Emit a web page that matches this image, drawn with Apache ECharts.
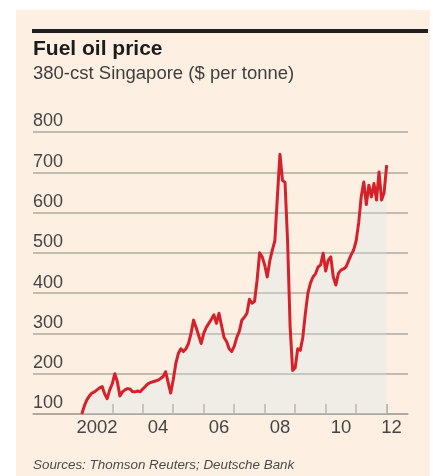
<!DOCTYPE html>
<html>
<head>
<meta charset="utf-8">
<script src="https://cdn.jsdelivr.net/npm/echarts@6/dist/echarts.min.js"></script>
<style>
  html, body { margin: 0; padding: 0; background: #ffffff; }
  #chart { position: absolute; left: 16px; top: 10px; width: 414px; height: 466px; }
</style>
</head>
<body>
<div id="chart"></div>
<script>
// ---- data ----
const titleText = 'Fuel oil price';
const subtitleText = '380-cst Singapore ($ per tonne)';
const sourceText = 'Sources: Thomson Reuters; Deutsche Bank';

const firstYear = 2002;           // first monthly observation: Jan 2002
// monthly prices, $ per tonne, Jan 2002 .. Jan 2012
const prices2002 = [100, 120, 135, 145, 152, 155, 160, 165, 168, 150, 138, 160];
const prices2003 = [175, 200, 180, 145, 155, 160, 163, 162, 155, 155, 157, 155];
const prices2004 = [162, 168, 175, 178, 180, 182, 184, 188, 193, 205, 178, 152];
const prices2005 = [185, 225, 250, 262, 255, 262, 275, 300, 333, 315, 295, 275];
const prices2006 = [300, 315, 325, 335, 346, 325, 350, 320, 290, 280, 262, 255];
const prices2007 = [268, 290, 305, 333, 340, 350, 385, 375, 380, 432, 500, 490];
const prices2008 = [470, 440, 480, 507, 530, 640, 745, 680, 675, 530, 317, 208];
const prices2009 = [215, 262, 258, 290, 350, 400, 425, 440, 448, 465, 470, 499];
const prices2010 = [455, 482, 490, 440, 420, 449, 457, 460, 465, 480, 495, 507];
const prices2011 = [530, 575, 640, 676, 620, 668, 639, 672, 631, 701, 631, 650];
const prices2012 = [718];

const yTicks = [100, 200, 300, 400, 500, 600, 700, 800];
const xTickYears = [2003, 2004, 2005, 2006, 2007, 2008, 2009, 2010, 2011, 2012];
const xLabelYears = [2002, 2004, 2006, 2008, 2010, 2012];
const xLabelTexts = ['2002', '04', '06', '08', '10', '12'];

// ---- build ----
const prices = [].concat(prices2002, prices2003, prices2004, prices2005, prices2006,
  prices2007, prices2008, prices2009, prices2010, prices2011, prices2012);
const seriesData = prices.map((v, i) => [firstYear + i / 12, v]);

const FONT = '"Liberation Sans", Arial, sans-serif';
const chart = echarts.init(document.getElementById('chart'), null, { renderer: 'canvas' });

chart.setOption({
  backgroundColor: '#fdf0e2',
  animation: false,
  title: [
    { text: titleText, left: 17, top: 29, padding: 0,
      textStyle: { fontFamily: FONT, fontSize: 21, fontWeight: 'bold', color: '#1c1c1c' } },
    { text: subtitleText, left: 17, top: 54, padding: 0,
      textStyle: { fontFamily: FONT, fontSize: 18.5, fontWeight: 'normal', color: '#3e3e3e' } },
    { text: sourceText, left: 17, top: 449, padding: 0,
      textStyle: { fontFamily: FONT, fontSize: 13.4, fontStyle: 'italic', fontWeight: 'normal', color: '#4a4a4a' } }
  ],
  graphic: [
    { type: 'rect', shape: { x: 16, y: 19, width: 396, height: 4 }, style: { fill: '#1f1f1f' }, silent: true }
  ],
  grid: { left: 17, right: 22, top: 122, bottom: 62, containLabel: false },
  xAxis: {
    type: 'value',
    min: 2000.4,
    max: 2012.7,
    splitLine: { show: false },
    axisLine: { show: true, lineStyle: { color: '#a8a399', width: 1.5 } },
    axisTick: {
      show: true, inside: true, length: 10,
      customValues: xTickYears,
      lineStyle: { color: '#a8a399', width: 1.5 }
    },
    axisLabel: {
      show: true,
      customValues: xLabelYears.map(y => y + 0.5),
      formatter: function (v) {
        const idx = xLabelYears.indexOf(Math.round(v - 0.5));
        return idx >= 0 ? xLabelTexts[idx] : '';
      },
      margin: 4,
      alignMaxLabel: 'right',
      fontFamily: FONT, fontSize: 18.5, color: '#454545'
    }
  },
  yAxis: {
    type: 'value',
    min: yTicks[0],
    max: yTicks[yTicks.length - 1],
    interval: 100,
    axisLine: { show: false },
    axisTick: { show: false },
    splitLine: { show: true, lineStyle: { color: '#ada89f', width: 1.5 } },
    axisLabel: {
      inside: true, margin: 0, align: 'left', verticalAlign: 'bottom',
      padding: [0, 0, 1.5, 0],
      fontFamily: FONT, fontSize: 18, color: '#454545'
    }
  },
  series: [{
    type: 'line',
    data: seriesData,
    showSymbol: false,
    smooth: false,
    lineStyle: { color: '#d6212b', width: 3, join: 'round' },
    areaStyle: { origin: 'start', color: 'rgba(215,230,240,0.45)' },
    z: 3
  }]
});
</script>
</body>
</html>
